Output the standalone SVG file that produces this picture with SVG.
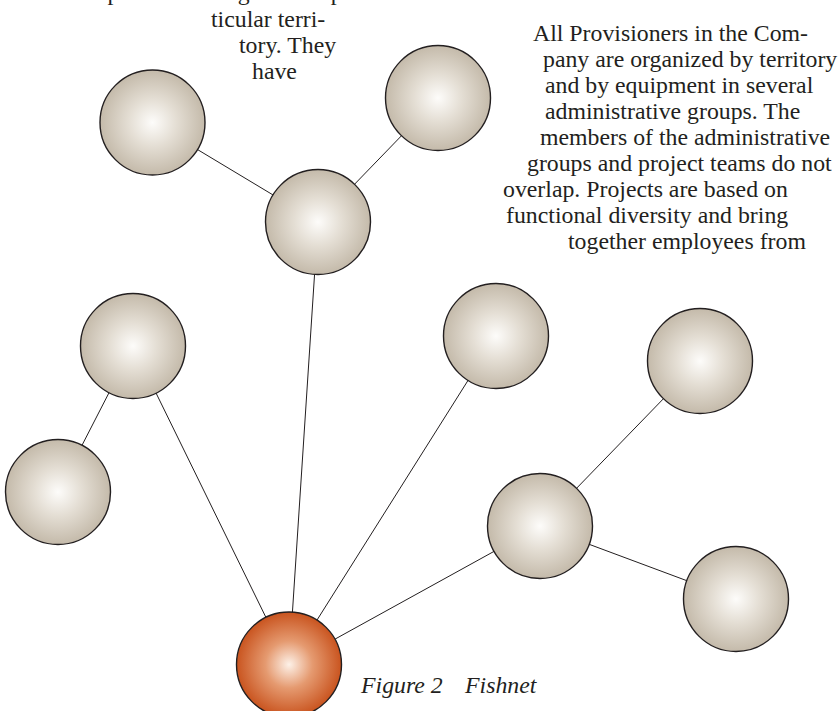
<svg xmlns="http://www.w3.org/2000/svg" width="840" height="711" viewBox="0 0 840 711">
  <style>
    .txt { font-family: "Liberation Serif", "Times New Roman", serif; font-size: 23.8px; fill: #231f20; }
    .cap { font-family: "Liberation Serif", "Times New Roman", serif; font-size: 23.8px; font-style: italic; fill: #231f20; }
    .link { stroke: #231f20; stroke-width: 1; fill: none; }
    .ball { stroke: #231f20; stroke-width: 1.4; }
    .plain { fill: url(#gBeige); }
    .root { fill: url(#gOrange); }
  </style>
  <defs>
    <radialGradient id="gBeige" cx="0.5" cy="0.5" r="0.5">
      <stop offset="0" stop-color="#fdfcfa"/>
      <stop offset="0.45" stop-color="#e4ded4"/>
      <stop offset="1" stop-color="#c4baaa"/>
    </radialGradient>
    <radialGradient id="gOrange" cx="0.5" cy="0.5" r="0.5">
      <stop offset="0" stop-color="#fdf1e8"/>
      <stop offset="0.45" stop-color="#e59a70"/>
      <stop offset="1" stop-color="#c9541f"/>
    </radialGradient>
  </defs>

  <rect width="840" height="711" fill="#ffffff"/>

  <!-- body text, left column (first line runs off the top edge) -->
  <g id="text-left" class="txt">
    <text x="11" y="0">teams of specialists assigned to a par-</text>
    <text x="211" y="27">ticular terri-</text>
    <text x="239" y="53">tory. They</text>
    <text x="252" y="79">have</text>
  </g>

  <!-- body text, right column -->
  <g id="text-right" class="txt">
    <text x="533" y="41">All Provisioners in the Com-</text>
    <text x="543" y="67">pany are organized by territory</text>
    <text x="545" y="93">and by equipment in several</text>
    <text x="545" y="119">administrative groups. The</text>
    <text x="540" y="145">members of the administrative</text>
    <text x="527" y="171">groups and project teams do not</text>
    <text x="503" y="197">overlap. Projects are based on</text>
    <text x="506" y="223">functional diversity and bring</text>
    <text x="568" y="249">together employees from</text>
  </g>

  <!-- connectors -->
  <g id="connectors" class="link">
    <line x1="152.5" y1="122.5" x2="318" y2="222"/>
    <line x1="438" y1="98" x2="318" y2="222"/>
    <line x1="318" y1="222" x2="289" y2="664.5"/>
    <line x1="133" y1="346" x2="58" y2="492"/>
    <line x1="133" y1="346" x2="289" y2="664.5"/>
    <line x1="496" y1="336" x2="289" y2="664.5"/>
    <line x1="540" y1="526" x2="289" y2="664.5"/>
    <line x1="540" y1="526" x2="700" y2="361"/>
    <line x1="540" y1="526" x2="736" y2="599"/>
  </g>

  <!-- nodes -->
  <g id="node-top-left"><circle class="ball plain" cx="152.5" cy="122.5" r="52.5"/></g>
  <g id="node-top-right"><circle class="ball plain" cx="438" cy="98" r="52.5"/></g>
  <g id="node-upper-hub"><circle class="ball plain" cx="318" cy="222" r="52.5"/></g>
  <g id="node-left"><circle class="ball plain" cx="133" cy="346" r="52.5"/></g>
  <g id="node-far-left"><circle class="ball plain" cx="58" cy="492" r="52.5"/></g>
  <g id="node-center"><circle class="ball plain" cx="496" cy="336" r="52.5"/></g>
  <g id="node-right-upper"><circle class="ball plain" cx="700" cy="361" r="52.5"/></g>
  <g id="node-right-hub"><circle class="ball plain" cx="540" cy="526" r="52.5"/></g>
  <g id="node-right-lower"><circle class="ball plain" cx="736" cy="599" r="52.5"/></g>
  <g id="node-root"><circle class="ball root" cx="289" cy="664.5" r="52.5"/></g>

  <!-- caption -->
  <g id="caption" class="cap">
    <text y="693"><tspan x="361">Figure 2</tspan><tspan x="465">Fishnet</tspan></text>
  </g>
</svg>
